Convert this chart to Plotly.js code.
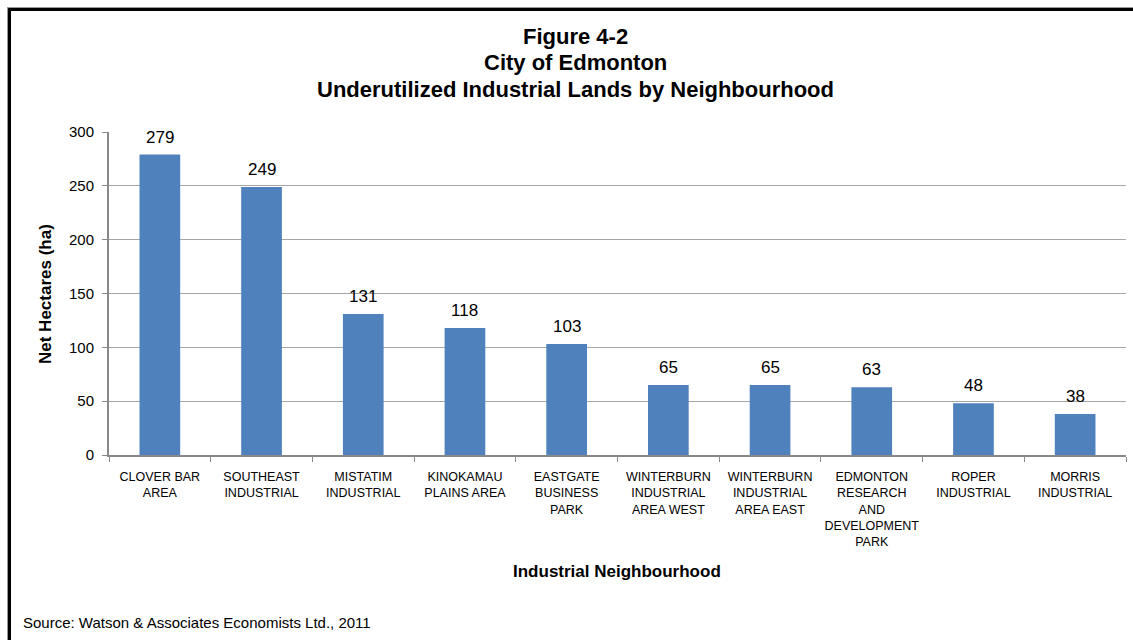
<!DOCTYPE html>
<html>
<head>
<meta charset="utf-8">
<script src="https://cdn.plot.ly/plotly-3.0.1.min.js"></script>
<style>
  html, body { margin: 0; padding: 0; background: #fff; }
  #wrap { position: relative; width: 1133px; height: 640px; overflow: hidden; }
  #chart { width: 1133px; height: 640px; }
  #frame {
    position: absolute; left: 8px; top: 8px; width: 1140px; height: 660px;
    border-left: 3px solid #000; border-top: 3px solid #000;
    box-shadow: -1px -1px 0 #999; pointer-events: none;
  }
</style>
</head>
<body>
<div id="wrap">
  <div id="chart"></div>
  <div id="frame"></div>
</div>
<script>
// Underutilized industrial land (net hectares) per neighbourhood
const neighbourhoods = [
  "CLOVER BAR<br>AREA",
  "SOUTHEAST<br>INDUSTRIAL",
  "MISTATIM<br>INDUSTRIAL",
  "KINOKAMAU<br>PLAINS AREA",
  "EASTGATE<br>BUSINESS<br>PARK",
  "WINTERBURN<br>INDUSTRIAL<br>AREA WEST",
  "WINTERBURN<br>INDUSTRIAL<br>AREA EAST",
  "EDMONTON<br>RESEARCH<br>AND<br>DEVELOPMENT<br>PARK",
  "ROPER<br>INDUSTRIAL",
  "MORRIS<br>INDUSTRIAL"
];
const netHectares = [279, 249, 131, 118, 103, 65, 65, 63, 48, 38];
const yTicks = [0, 50, 100, 150, 200, 250, 300];
const titleLines = [
  "Figure 4-2",
  "City of Edmonton",
  "Underutilized Industrial Lands by Neighbourhood"
];

const font = "Liberation Sans, Arial, sans-serif";

// plot-area geometry in pixels, used to place the free-floating texts
const W = 1133, H = 640;
const M = { l: 109, r: 7, t: 132, b: 185 };
const plotW = W - M.l - M.r, plotH = H - M.t - M.b;
const px = x => (x - M.l) / plotW;          // page x -> paper x
const py = y => (H - M.b - y) / plotH;      // page y -> paper y

const trace = {
  type: "bar",
  x: neighbourhoods,
  y: netHectares,
  marker: { color: "#4F81BD", line: { width: 0 } },
  hoverinfo: "x+y"
};

// value labels above each bar
const valueLabels = neighbourhoods.map((c, i) => ({
  x: c, y: netHectares[i], xref: "x", yref: "y",
  text: String(netHectares[i]),
  showarrow: false, yanchor: "bottom", yshift: 6,
  font: { family: font, size: 17, color: "#000" }
}));

const titleAnns = titleLines.map((t, i) => ({
  text: "<b>" + t + "</b>",
  xref: "paper", yref: "paper",
  x: px(575), xanchor: "center",
  y: py(37 + i * 26), yanchor: "middle",
  showarrow: false,
  font: { family: font, size: 22, color: "#000" }
}));

const layout = {
  width: W,
  height: H,
  margin: M,
  paper_bgcolor: "#fff",
  plot_bgcolor: "#fff",
  bargap: 0.6,
  showlegend: false,
  font: { family: font, color: "#000" },
  xaxis: {
    type: "category",
    tickangle: 0,
    tickson: "boundaries",
    ticks: "outside",
    ticklen: 5,
    tickcolor: "#888",
    ticklabelstandoff: 9,
    showline: true,
    linecolor: "#888",
    linewidth: 2,
    tickfont: { family: font, size: 12.5, color: "#000" }
  },
  yaxis: {
    range: [0, 300],
    tickvals: yTicks,
    ticktext: yTicks.map(String),
    ticks: "outside",
    ticklen: 5,
    tickcolor: "#888",
    ticklabelstandoff: 5,
    showline: true,
    linecolor: "#888",
    linewidth: 2,
    showgrid: true,
    gridcolor: "#a6a6a6",
    gridwidth: 1,
    zeroline: false,
    tickfont: { family: font, size: 15, color: "#000" }
  },
  annotations: [
    ...valueLabels,
    ...titleAnns,
    {
      text: "<b>Net Hectares (ha)</b>",
      xref: "paper", yref: "paper",
      x: px(45), y: py(294), xanchor: "center", yanchor: "middle",
      textangle: -90, showarrow: false,
      font: { family: font, size: 17, color: "#000" }
    },
    {
      text: "<b>Industrial Neighbourhood</b>",
      xref: "paper", yref: "paper",
      x: px(617), y: py(571), xanchor: "center", yanchor: "middle",
      showarrow: false,
      font: { family: font, size: 17, color: "#000" }
    },
    {
      text: "Source: Watson & Associates Economists Ltd., 2011",
      xref: "paper", yref: "paper",
      x: px(21), xanchor: "left",
      y: py(622), yanchor: "middle",
      showarrow: false,
      font: { family: font, size: 15, color: "#000" }
    }
  ]
};

Plotly.newPlot("chart", [trace], layout, { displayModeBar: false, staticPlot: true });
</script>
</body>
</html>
